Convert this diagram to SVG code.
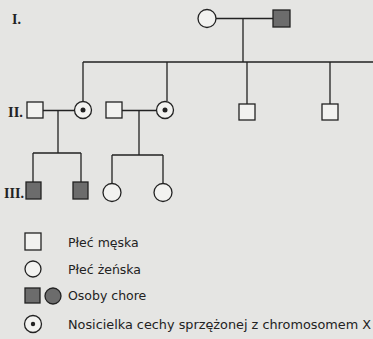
<svg xmlns="http://www.w3.org/2000/svg" width="373" height="339" viewBox="0 0 373 339">
<style>
.ln{stroke:#222;stroke-width:1.3;fill:none}
.m{fill:#f2f2f0;stroke:#222;stroke-width:1.3}
.f{fill:#f2f2f0;stroke:#222;stroke-width:1.3}
.a{fill:#6c6c6c;stroke:#222;stroke-width:1.3}
.dot{fill:#222}
.lab{font-family:"Liberation Serif","Times New Roman",serif;font-size:14px;font-weight:bold;fill:#222}
.t{font-family:"DejaVu Sans","Liberation Sans",sans-serif;font-size:12.5px;fill:#222}
</style>
<rect width="373" height="339" fill="#e5e5e3"/>
<g id="labels">
<text class="lab" x="12" y="24">I.</text>
<text class="lab" x="8" y="117" textLength="15" lengthAdjust="spacingAndGlyphs">II.</text>
<text class="lab" x="4" y="198" textLength="20" lengthAdjust="spacingAndGlyphs">III.</text>
</g>
<g id="connectors">
<path class="ln" d="M216,18.5H273M243,18.5V62M83,62H373M83,62V101M167,62V101M247,62V104M330,62V104"/>
<path class="ln" d="M43,110.5H74M58,110.5V153M33,153H81M33,153V182M81,153V182"/>
<path class="ln" d="M122,110.5H156M139,110.5V155M112,155H163M112,155V183M163,155V183"/>
</g>
<g id="I-1"><circle class="f" cx="207" cy="18.5" r="9"/></g>
<g id="I-2"><rect class="a" x="273" y="10" width="17" height="17"/></g>
<g id="II-1"><rect class="m" x="27" y="102" width="16" height="16"/></g>
<g id="II-2"><circle class="f" cx="83" cy="110" r="8.5"/><circle class="dot" cx="83" cy="110" r="2.5"/></g>
<g id="II-3"><rect class="m" x="106" y="102" width="16" height="16"/></g>
<g id="II-4"><circle class="f" cx="165" cy="110" r="8.5"/><circle class="dot" cx="165" cy="110" r="2.5"/></g>
<g id="II-5"><rect class="m" x="239" y="104" width="16" height="16"/></g>
<g id="II-6"><rect class="m" x="322" y="104" width="16" height="16"/></g>
<g id="III-1"><rect class="a" x="26" y="182" width="15" height="17"/></g>
<g id="III-2"><rect class="a" x="73" y="182" width="15" height="17"/></g>
<g id="III-3"><circle class="f" cx="112" cy="192.5" r="9"/></g>
<g id="III-4"><circle class="f" cx="163" cy="192.5" r="9"/></g>
<g id="legend">
<rect class="m" x="25" y="233" width="16" height="17"/>
<text class="t" x="68" y="247">Płeć męska</text>
<circle class="f" cx="33" cy="269" r="8"/>
<text class="t" x="68" y="274">Płeć żeńska</text>
<rect class="a" x="25" y="288" width="15" height="15"/>
<circle class="a" cx="53" cy="296" r="8"/>
<text class="t" x="68" y="300">Osoby chore</text>
<circle class="f" cx="33" cy="324" r="8.5"/>
<circle class="dot" cx="33" cy="324" r="2.2"/>
<text class="t" x="68" y="329" textLength="303" lengthAdjust="spacingAndGlyphs">Nosicielka cechy sprzężonej z chromosomem X</text>
</g>
</svg>
